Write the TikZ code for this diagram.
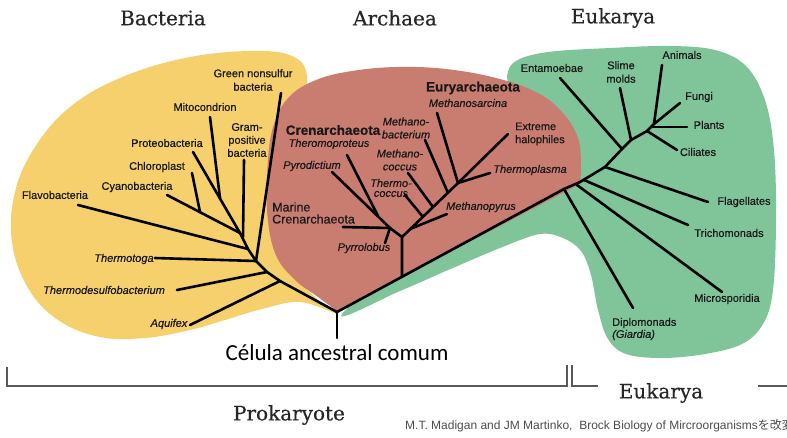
\documentclass[tikz,border=0pt]{standalone}
\usepackage{fontspec}
\setmainfont{Liberation Sans}[FakeBold=0.5]
\newfontfamily\srcfont{Liberation Sans}
\newfontfamily\domainfont{DejaVu Serif}[FakeBold=0.4]
\newfontfamily\rootfont{Carlito}
\newfontfamily\jpfont{Noto Sans CJK JP}
\usetikzlibrary{positioning}
\definecolor{bactfill}{RGB}{246,208,108}
\definecolor{archfill}{RGB}{201,125,112}
\definecolor{eukfill}{RGB}{128,197,153}

\begin{document}
\begin{tikzpicture}[
        x=1pt, y=-1pt,
        branch/.style={line width=2.6pt, line cap=round, line join=round},
        taxon/.style={inner sep=0pt, align=center, text=black!90, font=\fontsize{11}{13.5}\selectfont},
        taxit/.style={taxon, font=\fontsize{11}{13.5}\selectfont\itshape},
        clade/.style={taxon, font=\fontsize{13.5}{15}\selectfont\bfseries},
        realm/.style={inner sep=0pt, text=black!85, font=\domainfont\fontsize{20}{22}\selectfont},
        bracket/.style={draw=black!65, line width=1.3pt}
    ]
    \useasboundingbox (0,0) rectangle (787,437);

    \fill[bactfill] plot[smooth cycle, tension=0.65] coordinates {(338,314) (300,302) (262,309) (225,320) (190,330) (145,338) (100,337) (58,320) (28,288) (12,242) (15,192) (35,147) (70,107) (120,78) (185,58) (250,51) (292,56) (307,76) (300,115) (285,170) (290,260) (318,300)};
    \fill[eukfill] plot[smooth cycle, tension=0.6] coordinates {(342,314) (400,291) (455,267) (505,246) (540,234) (563,238) (581,251) (591,275) (598,310) (608,339) (626,354) (662,358) (705,354) (742,344) (763,324) (773,290) (776,220) (774,150) (765,100) (746,66) (715,50) (670,46) (610,48) (548,52) (516,61) (507,77) (512,100) (500,160) (440,230)};
    \fill[archfill] (580,184) -- (337,311) -- plot[smooth, tension=0.65] coordinates {(337,311) (318,297) (294,279) (275,253) (267,210) (268,160) (274,124) (289,97) (316,80) (352,71) (397,67) (446,69) (496,78) (536,92) (562,112) (578,138) (581,166) (580,184)} -- cycle;

    \node[realm] (d1) at (163,18) {Bacteria};
    \node[realm] (d2) at (395,18) {Archaea};
    \node[realm] (d3) at (613,18) {Eukarya};

    \coordinate (root) at (337,312);
    \coordinate (base) at (337,338);
    \coordinate (bt1) at (240,233);
    \coordinate (bt2) at (248,249);
    \coordinate (bt3) at (256,261);
    \coordinate (bt4) at (267,272);
    \coordinate (bt5) at (280,281);
    \coordinate (mj) at (220,198);
    \coordinate (cj) at (200,212);
    \coordinate (gj) at (243,237);
    \coordinate (gns) at (281,93);
    \coordinate (mit) at (210,117);
    \coordinate (grp) at (244,160);
    \coordinate (pro) at (193,152);
    \coordinate (chl) at (192,173);
    \coordinate (cya) at (167,195);
    \coordinate (fla) at (78,205);
    \coordinate (thg) at (155,258);
    \coordinate (thd) at (177,290);
    \coordinate (aqu) at (190,325);

    \node[taxon] (b1) at (253,80) {Green nonsulfur\\bacteria};
    \node[taxon] (b2) at (205,107) {Mitocondrion};
    \node[taxon, font=\fontsize{11}{13}\selectfont] (b3) at (247,140) {Gram-\\positive\\bacteria};
    \node[taxon] (b4) at (167,143) {Proteobacteria};
    \node[taxon] (b5) at (157,167) {Chloroplast};
    \node[taxon] (b6) at (137,187) {Cyanobacteria};
    \node[taxon] (b7) at (55,195) {Flavobacteria};
    \node[taxit] (b8) at (124,259) {Thermotoga};
    \node[taxit] (b9) at (104,290) {Thermodesulfobacterium};
    \node[taxit] (b10) at (169,324) {Aquifex};

    \draw[branch] (root) -- (bt5) -- (bt4) -- (bt3) -- (bt2) -- (bt1);
    \draw[branch] (gns) -- (bt3);
    \draw[branch] (mit) -- (mj);
    \draw[branch] (grp) -- (gj);
    \draw[branch] (pro) -- (bt1);
    \draw[branch] (chl) -- (cj);
    \draw[branch] (cya) -- (bt1);
    \draw[branch] (fla) -- (bt2);
    \draw[branch] (thg) -- (bt3);
    \draw[branch] (thd) -- (bt4);
    \draw[branch] (aqu) -- (bt5);

    \coordinate (as0) at (402,277);
    \coordinate (as1) at (402,237);
    \coordinate (ac) at (390,228);
    \coordinate (tj) at (378,216);
    \coordinate (ae) at (458,183);
    \coordinate (mpj) at (410,229);
    \coordinate (tcj) at (423,217);
    \coordinate (mcj) at (433,207);
    \coordinate (mbj) at (448,193);
    \coordinate (mar) at (343,227);
    \coordinate (pyl) at (385,243);
    \coordinate (pyd) at (332,172);
    \coordinate (thp) at (347,155);
    \coordinate (mpy) at (447,214);
    \coordinate (tco) at (405,195);
    \coordinate (mco) at (408,173);
    \coordinate (mba) at (425,140);
    \coordinate (msa) at (437,113);
    \coordinate (hal) at (508,134);
    \coordinate (tpl) at (490,173);

    \node[clade] (a1) at (333,130) {Crenarchaeota};
    \node[taxit] (a2) at (329,144) {Theromoproteus};
    \node[taxit] (a3) at (312,166) {Pyrodictium};
    \node[taxon, anchor=west, align=left, font=\fontsize{12.5}{12}\selectfont] (a4) at (272,213) {Marine\\Crenarchaeota};
    \node[taxit] (a5) at (364,248) {Pyrrolobus};
    \node[taxit] (a6) at (391,188) {Thermo-\\[-3.5pt]coccus};
    \node[taxit, font=\fontsize{11}{13}\selectfont\itshape] (a7) at (400,160) {Methano-\\coccus};
    \node[taxit, font=\fontsize{11}{13}\selectfont\itshape] (a8) at (406,128) {Methano-\\bacterium};
    \node[clade] (a9) at (473,88) {Euryarchaeota};
    \node[taxit] (a10) at (468,103) {Methanosarcina};
    \node[taxon, anchor=west, align=left, font=\fontsize{11}{13}\selectfont] (a11) at (515,134) {Extreme\\halophiles};
    \node[taxit] (a12) at (530,170) {Thermoplasma};
    \node[taxit] (a13) at (481,207) {Methanopyrus};

    \draw[branch] (as0) -- (as1) -- (ac);
    \draw[branch] (mar) -- (ac) -- (pyl);
    \draw[branch] (pyd) -- (ac);
    \draw[branch] (thp) -- (tj);
    \draw[branch] (as1) -- (ae);
    \draw[branch] (mpj) -- (mpy);
    \draw[branch] (tco) -- (tcj);
    \draw[branch] (mco) -- (mcj);
    \draw[branch] (mba) -- (mbj);
    \draw[branch] (msa) -- (ae);
    \draw[branch] (hal) -- (ae);
    \draw[branch] (tpl) -- (ae);

    \coordinate (e1) at (564,189);
    \coordinate (e2) at (580,182);
    \coordinate (e3) at (605,167);
    \coordinate (e4) at (622,149);
    \coordinate (e5) at (631,140);
    \coordinate (e6) at (647,131);
    \coordinate (e7) at (654,124);
    \coordinate (plj) at (653,127);
    \coordinate (trj) at (584,180);
    \coordinate (msj) at (577,185);
    \coordinate (ent) at (560,78);
    \coordinate (slm) at (620,88);
    \coordinate (ani) at (662,65);
    \coordinate (fun) at (680,103);
    \coordinate (pla) at (687,127);
    \coordinate (cil) at (677,150);
    \coordinate (flg) at (708,202);
    \coordinate (tri) at (688,225);
    \coordinate (mic) at (722,292);
    \coordinate (dip) at (633,308);

    \node[taxon] (e1l) at (552,68) {Entamoebae};
    \node[taxon] (e2l) at (621,72) {Slime\\molds};
    \node[taxon] (e3l) at (682,55) {Animals};
    \node[taxon] (e4l) at (699,97) {Fungi};
    \node[taxon] (e5l) at (709,125) {Plants};
    \node[taxon] (e6l) at (698,152) {Ciliates};
    \node[taxon] (e7l) at (744,202) {Flagellates};
    \node[taxon] (e8l) at (729,233) {Trichomonads};
    \node[taxon] (e9l) at (727,299) {Microsporidia};
    \node[taxon, anchor=west, align=left, font=\fontsize{11}{12}\selectfont] (e10l) at (612,329) {Diplomonads\\\textit{(Giardia)}};

    \draw[branch] (root) -- (e1) -- (e2) -- (e3) -- (e4) -- (e5) -- (e6) -- (e7);
    \draw[branch] (ent) -- (e4);
    \draw[branch] (slm) -- (e5);
    \draw[branch] (ani) -- (e7);
    \draw[branch] (fun) -- (e7);
    \draw[branch] (pla) -- (plj);
    \draw[branch] (cil) -- (e6);
    \draw[branch] (flg) -- (e3);
    \draw[branch] (tri) -- (trj);
    \draw[branch] (mic) -- (msj);
    \draw[branch] (dip) -- (e1);

    \draw[branch] (root) -- (base);
    \node[inner sep=0pt, below=6.5pt of base, font=\rootfont\fontsize{23}{26}\selectfont] (cell) {Célula ancestral comum};

    \draw[bracket] (7,367) -- (7,386) -- (567,386) -- (567,365);
    \draw[bracket] (572,365) -- (572,386) -- (598,386);
    \draw[bracket] (758,386) -- (795,386);
    \node[realm] (d4) at (661,393) {Eukarya};
    \node[realm] (d5) at (289,415) {Prokaryote};
    \node[anchor=west, inner sep=0pt, text=black!70, font=\srcfont\fontsize{12}{13}\selectfont] (src) at (405,426) {M.T. Madigan and JM Martinko,\ \ Brock Biology of Mircroorganisms{\jpfont を改変}};
\end{tikzpicture}
\end{document}
